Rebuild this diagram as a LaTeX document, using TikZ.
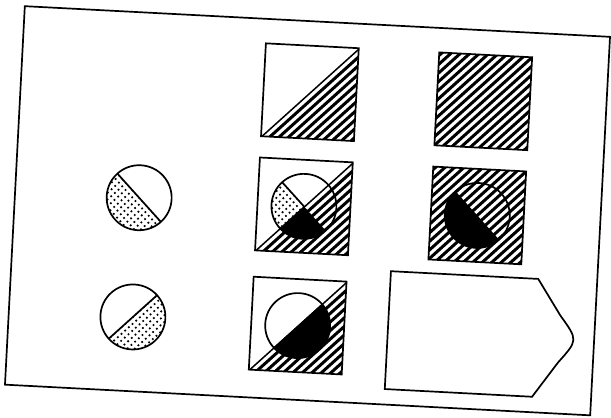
\documentclass[tikz,border=0pt]{standalone}
\usetikzlibrary{calc}
\tikzset{
  outline/.style={line width=1.7pt, line join=miter},
  hatchline/.style={line width=3pt},
  cell/.style={draw, outline, minimum size=93pt, inner sep=0pt, outer sep=0pt},
  disc/.style={circle, draw, outline, minimum size=65pt, inner sep=0pt, outer sep=0pt},
}
\newcommand{\hatchfield}{\foreach \k in {-144,-135,...,144} \draw[hatchline] (\k-60,-60) -- (\k+60,60);}
\newcommand{\dotfield}{\foreach \i in {-5,...,5} \foreach \j in {-5,...,5} {\fill (7*\i,7*\j) circle (1.2pt); \fill (7*\i+3.5,7*\j+3.5) circle (1.2pt);}}

\begin{document}
\begin{tikzpicture}[x=1pt,y=1pt]
  \useasboundingbox (-307.5,-207.25) rectangle (303.5,210.75);
  \begin{scope}[rotate=-3, transform shape]
    % frame
    \draw[outline] (-293,-189.5) rectangle (293,189.5);

    % top row
    \begin{scope}[shift={(-3.8,118.5)}]
      \clip (-46.5,-46.5) -- (46.5,46.5) -- (46.5,-46.5) -- cycle;
      \hatchfield
    \end{scope}
    \node[cell] (sqA) at (-3.8,118.5) {};
    \begin{scope}[shift={(169.8,118.5)}]
      \clip (-46.5,-46.5) rectangle (46.5,46.5);
      \hatchfield
    \end{scope}
    \node[cell] (sqB) at (169.8,118.5) {};

    % middle row
    \begin{scope}[shift={(-168.8,4.2)}]
      \clip (135:32.5) arc[start angle=135, end angle=315, radius=32.5] -- cycle;
      \dotfield
    \end{scope}
    \node[disc] (dC) at (-168.8,4.2) {};
    \draw[outline] (dC.north west) -- (dC.south east);

    \begin{scope}[shift={(-3.8,4.2)}]
      \begin{scope}
        \clip (-46.5,-46.5) -- (46.5,46.5) -- (46.5,-46.5) -- cycle;
        \hatchfield
      \end{scope}
      \begin{scope}
        \clip (0,0) -- (135:32.5) arc[start angle=135, end angle=225, radius=32.5] -- cycle;
        \dotfield
      \end{scope}
      \fill (0,0) -- (225:32.5) arc[start angle=225, end angle=315, radius=32.5] -- cycle;
    \end{scope}
    \node[cell] (sqD) at (-3.8,4.2) {};
    \node[disc] (dD) at (-3.8,4.2) {};
    \draw[outline] (dD.center) -- (dD.north west);

    \begin{scope}[shift={(169.8,4.2)}]
      \clip (-46.5,-46.5) rectangle (46.5,46.5);
      \hatchfield
      \fill (135:32.5) arc[start angle=135, end angle=315, radius=32.5] -- cycle;
    \end{scope}
    \node[cell] (sqF) at (169.8,4.2) {};
    \node[disc] (dF) at (169.8,4.2) {};

    % bottom row
    \begin{scope}[shift={(-168.8,-115.2)}]
      \clip (225:32.5) arc[start angle=225, end angle=405, radius=32.5] -- cycle;
      \dotfield
    \end{scope}
    \node[disc] (dE) at (-168.8,-115.2) {};
    \draw[outline] (dE.south west) -- (dE.north east);

    \begin{scope}[shift={(-3.8,-115.2)}]
      \begin{scope}
        \clip (-46.5,-46.5) -- (46.5,46.5) -- (46.5,-46.5) -- cycle;
        \hatchfield
      \end{scope}
      \fill (225:32.5) arc[start angle=225, end angle=405, radius=32.5] -- cycle;
    \end{scope}
    \node[cell] (sqG) at (-3.8,-115.2) {};
    \node[disc] (dG) at (-3.8,-115.2) {};

    % answer shape
    \draw[outline] (86.5,-56) -- (234,-56) -- (258,-91.4)
      .. controls (277,-115) .. (258,-138.6) -- (234,-174) -- (86.5,-174) -- cycle;
  \end{scope}
\end{tikzpicture}
\end{document}
